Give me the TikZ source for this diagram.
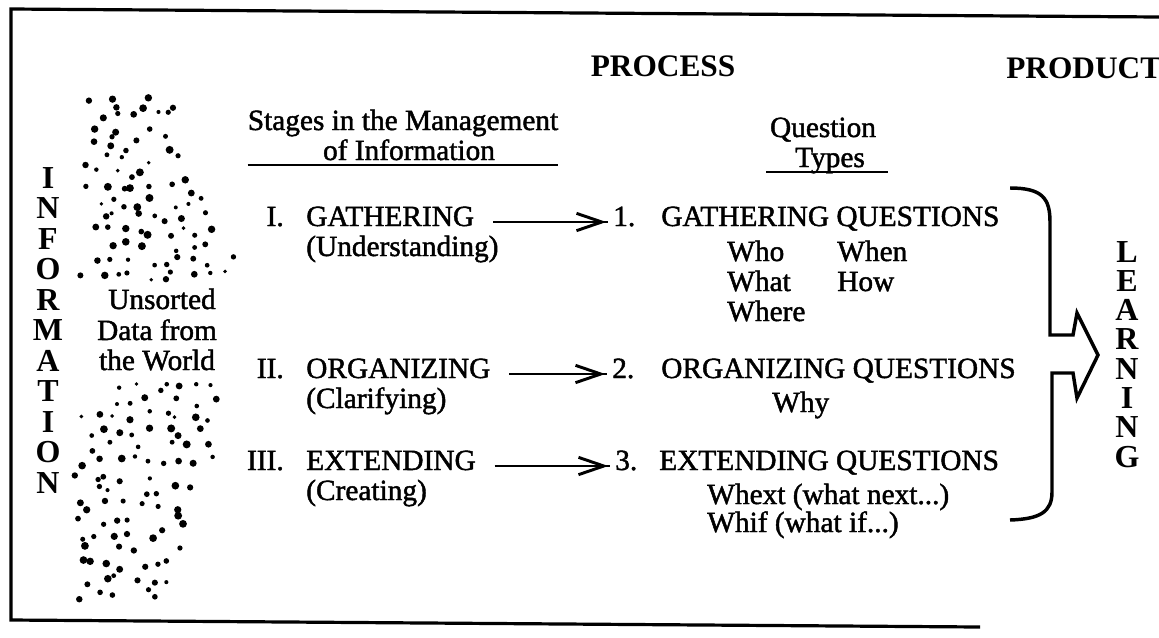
\documentclass[tikz,border=0pt]{standalone}
\usepackage{fontspec}
\setmainfont{Liberation Serif}
\newfontfamily\bodyfont{Liberation Serif}[FakeBold=1.5]
\usetikzlibrary{arrows.meta,calc,decorations.markings}

\tikzset{
  txt/.style={anchor=base west,inner sep=0pt,text height=0.7em,text depth=0.1em,
    font=\bodyfont\fontsize{22}{26}\selectfont},
  head/.style={anchor=base,inner sep=0pt,font=\fontsize{23.5}{26}\selectfont\bfseries},
  vletter/.style={anchor=base,inner sep=0pt,font=\fontsize{24}{26}\selectfont\bfseries},
  frame/.style={line width=2.4pt},
  rule/.style={line width=1.7pt},
  flowline/.style={line width=2.2pt,shorten <=14pt,shorten >=4pt,
    decoration={markings,mark=at position -5pt with
      {\arrow{Straight Barb[length=19pt,width=13pt,line width=2.2pt]}}},
    postaction={decorate}},
  brace/.style={line width=2.6pt,line join=miter}
}

\begin{document}
\begin{tikzpicture}[x=0.75pt,y=0.75pt,yscale=-1,xscale=1]
\useasboundingbox (0,0) rectangle (1159,637);

%Straight Lines: frame open on the right
\draw[frame] (1159,17) -- (11,9) -- (11,620) -- (980,627);

% Text Node
\node[head] (process) at (663,76) {PROCESS};
% Text Node
\node[head,anchor=base west] (product) at (1006,78) {PRODUCT};

% Text Node: column heads
\node[txt,anchor=base] (stages1) at (403,130) {Stages in the Management};
\node[txt,anchor=base] (stages2) at (409,160) {of Information};
\draw[rule] (stages1.west |- 0,165) -- (stages1.east |- 0,165);
\node[txt,anchor=base] (qhead) at (823,137) {Question};
\node[txt,anchor=base] (qtypes) at (830,167) {Types};
\draw[rule] ($(qtypes.base)+(-64,5)$) -- ($(qtypes.base)+(58,5)$);

% Text Node: vertical words
\foreach \l [count=\i] in {I,N,F,O,R,M,A,T,I,O,N}
  \node[vletter] (info\i) at (48,{188+30.5*(\i-1)}) {\l};
\foreach \l [count=\i] in {L,E,A,R,N,I,N,G}
  \node[vletter] (learn\i) at (1127,{262+29.3*(\i-1)}) {\l};

% Text Node
\node[txt,anchor=base] (unsorted1) at (162,309) {Unsorted};
\node[txt,anchor=base] (unsorted2) at (157,340) {Data from};
\node[txt,anchor=base] (unsorted3) at (157,370) {the World};

%Shape: scattered data, upper cloud (jittered rows, some left out)
\pgfmathsetseed{2718}
\foreach \row in {0,...,12}{
  \pgfmathsetmacro{\ft}{\row/12}
  \pgfmathsetmacro{\lo}{92-6*\ft}
  \pgfmathtruncatemacro{\cnt}{(78+66*\ft)/15}
  \foreach \n in {0,...,\cnt}{
    \pgfmathsetmacro{\dx}{\lo+15*\n+7*mod(\row,2)+14*rnd-7}
    \pgfmathsetmacro{\dy}{103+14.3*\row+11*rnd-5.5}
    \pgfmathsetmacro{\rad}{1.9+2.1*rnd}
    \pgfmathtruncatemacro{\keep}{rnd<0.8 ? 1 : 0}
    \ifnum\keep=1 \fill (\dx,\dy) circle[radius=\rad]; \fi
  }
}
%Shape: scattered data, lower cloud (jittered rows, some left out)
\foreach \row in {0,...,14}{
  \pgfmathsetmacro{\ft}{\row/14}
  \pgfmathsetmacro{\lo}{95-60*\ft+50*\ft*\ft}
  \pgfmathtruncatemacro{\cnt}{(130-3*\ft-50*\ft*\ft)/15}
  \foreach \n in {0,...,\cnt}{
    \pgfmathsetmacro{\dx}{\lo+15*\n+7*mod(\row,2)+14*rnd-7}
    \pgfmathsetmacro{\dy}{387+14.8*\row+11*rnd-5.5}
    \pgfmathsetmacro{\rad}{1.9+2.1*rnd}
    \pgfmathtruncatemacro{\keep}{rnd<0.8 ? 1 : 0}
    \ifnum\keep=1 \fill (\dx,\dy) circle[radius=\rad]; \fi
  }
}

% Text Node: stages
\node[txt,anchor=base east] (roman1) at (284,226) {I.};
\node[txt] (gath) at (306,226) {GATHERING};
\node[txt] (gathsub) at (306,256) {(Understanding)};
\node[txt,anchor=base east] (roman2) at (284,378) {II.};
\node[txt] (org) at (306,378) {ORGANIZING};
\node[txt] (orgsub) at (306,408) {(Clarifying)};
\node[txt,anchor=base east] (roman3) at (284,470) {III.};
\node[txt] (ext) at (306,470) {EXTENDING};
\node[txt] (extsub) at (306,500) {(Creating)};

% Text Node: question types
\node[txt] (q1) at (613,226) {1.};
\node[txt] (q1lbl) at (661,226) {GATHERING QUESTIONS};
\node[txt] (who) at (727,261) {Who};
\node[txt] (when) at (837,261) {When};
\node[txt] (what) at (727,291) {What};
\node[txt] (how) at (837,291) {How};
\node[txt] (where) at (727,321) {Where};
\node[txt] (q2) at (612,378) {2.};
\node[txt] (q2lbl) at (661,378) {ORGANIZING QUESTIONS};
\node[txt] (why) at (772,412) {Why};
\node[txt] (q3) at (615,470) {3.};
\node[txt] (q3lbl) at (659,470) {EXTENDING QUESTIONS};
\node[txt] (whext) at (707,504) {Whext (what next...)};
\node[txt] (whif) at (707,532) {Whif (what if...)};

%Straight Lines: stage to question type
\draw[flowline] (gath.east) -- (q1.west);
\draw[flowline] (org.east) -- (q2.west);
\draw[flowline] (ext.east) -- (q3.west);

%Curve Lines: bracket with block arrow to LEARNING
\draw[brace] (1010,188) .. controls (1042,188) and (1050,198) .. (1050,222)
  -- (1050,335) -- (1073,335) -- (1077,313) -- (1098,355) -- (1077,398)
  -- (1073,373) -- (1052,373) -- (1052,492)
  .. controls (1052,512) and (1040,519) .. (1010,520);

\end{tikzpicture}
\end{document}
